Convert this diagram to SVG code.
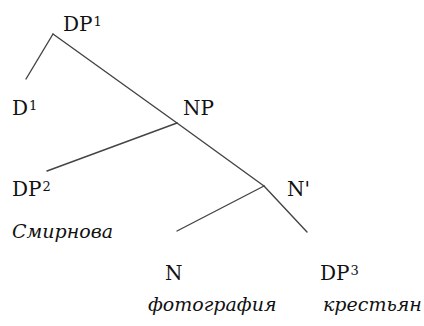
<svg xmlns="http://www.w3.org/2000/svg" width="424" height="326" viewBox="0 0 424 326">
<style>
.lbl{font-family:"DejaVu Serif","Liberation Serif",serif;font-size:20px;fill:#111}
.sup{font-size:13px}
.it{font-family:"DejaVu Serif",serif;font-style:italic;font-size:19px;fill:#111}
.edge{stroke:#444;stroke-width:1.4;fill:none;stroke-linecap:round}
</style>
<rect width="424" height="326" fill="#fff"/>
<g id="connectors">
<line class="edge" x1="53" y1="34" x2="26" y2="79"/>
<line class="edge" x1="53" y1="34" x2="177" y2="123"/>
<line class="edge" x1="177" y1="123" x2="264" y2="186"/>
<line class="edge" x1="264" y1="186" x2="307" y2="232"/>
<line class="edge" x1="177" y1="123" x2="47" y2="171"/>
<line class="edge" x1="264" y1="186" x2="177" y2="231"/>
</g>
<g id="DP1"><text class="lbl" x="63" y="31">DP<tspan class="sup" dx="1" dy="-5">1</tspan></text></g>
<g id="D1"><text class="lbl" x="12" y="115">D<tspan class="sup" dx="1" dy="-5">1</tspan></text></g>
<g id="NP"><text class="lbl" x="183" y="115">NP</text></g>
<g id="DP2"><text class="lbl" x="12" y="196">DP<tspan class="sup" dx="1" dy="-5">2</tspan></text>
<text class="it" x="12" y="238">Смирнова</text></g>
<g id="Nbar"><text class="lbl" x="287" y="196">N'</text></g>
<g id="N"><text class="lbl" x="165" y="280">N</text>
<text class="it" x="148" y="311">фотография</text></g>
<g id="DP3"><text class="lbl" x="320" y="280">DP<tspan class="sup" dx="1" dy="-5">3</tspan></text>
<text class="it" x="323" y="311">крестьян</text></g>
</svg>
